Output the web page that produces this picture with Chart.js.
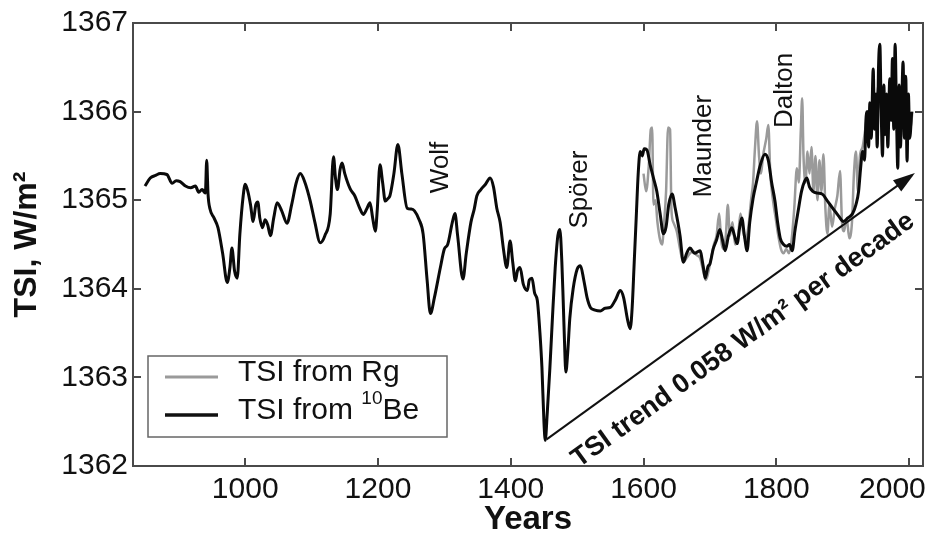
<!DOCTYPE html>
<html>
<head>
<meta charset="utf-8">
<title>TSI reconstruction</title>
<script src="https://cdn.jsdelivr.net/npm/chart.js@4.4.1/dist/chart.umd.min.js"></script>
<style>
  html, body { margin: 0; padding: 0; background: #fff; }
  #wrap { width: 934px; height: 538px; }
</style>
</head>
<body>
<div id="wrap"><canvas id="tsiChart" width="934" height="538"></canvas></div>
<script>
// ─────────────────────────────────────────
// DATA
// ─────────────────────────────────────────

// TSI from 10Be
const beYears = [
  849, 857, 865, 872, 882, 890, 896, 902, 910, 918, 925, 930, 935, 940, 942, 944, 947, 953, 959, 966,
  973, 977, 980, 984, 988, 992, 997, 1000, 1004, 1008, 1012, 1016, 1019, 1022, 1026, 1030, 1034, 1038, 1043, 1048,
  1055, 1063, 1070, 1077, 1083, 1090, 1098, 1105, 1113, 1120, 1128, 1133, 1136, 1139, 1143, 1146, 1150, 1158, 1165, 1172,
  1178, 1183, 1188, 1192, 1196, 1199, 1203, 1207, 1211, 1215, 1218, 1224, 1230, 1236, 1244, 1250, 1255, 1262, 1268, 1274,
  1279, 1285, 1294, 1300, 1305, 1312, 1316, 1320, 1328, 1333, 1340, 1345, 1349, 1355, 1362, 1369, 1374, 1379, 1384, 1389,
  1394, 1399, 1403, 1407, 1410, 1414, 1419, 1425, 1428, 1432, 1436, 1440, 1444, 1447, 1450, 1452, 1455, 1459, 1463, 1467,
  1471, 1474, 1477, 1479, 1481, 1483, 1486, 1489, 1494, 1500, 1505, 1510, 1515, 1520, 1527, 1535, 1542, 1550, 1558, 1565,
  1570, 1576, 1580, 1583, 1586, 1589, 1592, 1595, 1598, 1601, 1605, 1610, 1615, 1620, 1625, 1630, 1634, 1638, 1643, 1648,
  1655, 1660, 1665, 1670, 1677, 1685, 1690, 1693, 1697, 1700, 1705, 1710, 1715, 1719, 1723, 1728, 1733, 1737, 1741, 1745,
  1748, 1752, 1756, 1760, 1765, 1770, 1776, 1783, 1788, 1793, 1798, 1802, 1806, 1811, 1816, 1820, 1824, 1828, 1833, 1838,
  1843, 1846, 1850, 1855, 1862, 1869, 1878, 1886, 1894, 1901, 1908, 1915, 1920, 1924, 1927, 1930, 1933, 1935, 1937, 1939,
  1941, 1943, 1946, 1948, 1950, 1952, 1954, 1956, 1958, 1960, 1962, 1964, 1966, 1968, 1971, 1973, 1975, 1977, 1979, 1981,
  1983, 1985, 1987, 1989, 1991, 1993, 1995, 1997, 1999, 2001, 2004
];
const beTsi = [
  1365.16, 1365.25, 1365.28, 1365.30, 1365.29, 1365.19, 1365.22, 1365.21, 1365.16, 1365.14, 1365.16, 1365.09, 1365.12, 1365.08, 1365.45, 1365.07, 1364.90, 1364.80, 1364.69, 1364.40,
  1364.07, 1364.24, 1364.46, 1364.20, 1364.12, 1364.62, 1365.05, 1365.18, 1365.10, 1364.95, 1364.76, 1364.95, 1364.98, 1364.80, 1364.69, 1364.78, 1364.72, 1364.60, 1364.80, 1364.97,
  1364.88, 1364.74, 1364.95, 1365.20, 1365.30, 1365.20, 1364.99, 1364.75, 1364.52, 1364.60, 1364.84, 1365.49, 1365.25, 1365.12, 1365.35, 1365.42, 1365.30, 1365.13, 1365.05, 1364.92,
  1364.84, 1364.90, 1364.97, 1364.80, 1364.65, 1364.90, 1365.40, 1365.20, 1364.99, 1365.02, 1365.05, 1365.30, 1365.63, 1365.30, 1364.91, 1364.90, 1364.88, 1364.78, 1364.62, 1364.10,
  1363.72, 1363.90, 1364.24, 1364.45, 1364.50, 1364.75, 1364.85, 1364.60, 1364.11, 1364.40, 1364.75, 1364.90, 1365.05, 1365.12, 1365.18, 1365.25, 1365.15, 1364.91, 1364.75, 1364.45,
  1364.24, 1364.54, 1364.30, 1364.09, 1364.20, 1364.24, 1364.05, 1363.98, 1364.10, 1364.12, 1363.95, 1363.87, 1363.50, 1363.11, 1362.50, 1362.29, 1362.60, 1363.11, 1363.70, 1364.24,
  1364.60, 1364.67, 1364.30, 1363.87, 1363.40, 1363.06, 1363.30, 1363.67, 1364.00, 1364.22, 1364.26, 1364.10, 1363.90, 1363.79, 1363.76, 1363.75, 1363.78, 1363.79, 1363.88, 1363.98,
  1363.90, 1363.65, 1363.55, 1363.80, 1364.30, 1364.80, 1365.30, 1365.55, 1365.50, 1365.58, 1365.57, 1365.40, 1365.25, 1365.10, 1364.85, 1364.62, 1364.70, 1364.95, 1365.07, 1364.90,
  1364.60, 1364.30, 1364.40, 1364.46, 1364.40, 1364.43, 1364.25, 1364.12, 1364.25, 1364.28, 1364.45, 1364.55, 1364.67, 1364.55, 1364.43, 1364.60, 1364.69, 1364.60, 1364.51, 1364.70,
  1364.80, 1364.60, 1364.43, 1364.75, 1365.02, 1365.20, 1365.40, 1365.52, 1365.45, 1365.20, 1364.99, 1364.75, 1364.57, 1364.50, 1364.48, 1364.50, 1364.43, 1364.65, 1364.88, 1365.10,
  1365.22, 1365.25, 1365.15, 1365.10, 1365.08, 1365.07, 1364.98, 1364.90, 1364.82, 1364.76, 1364.80, 1364.85, 1364.95, 1365.10, 1365.36, 1365.55, 1365.45, 1365.90, 1366.00, 1365.60,
  1366.10, 1365.70, 1366.48, 1365.80, 1366.20, 1365.60, 1366.50, 1366.76, 1366.00, 1365.50, 1366.30, 1365.74, 1366.20, 1365.60, 1366.37, 1365.90, 1366.60, 1365.80, 1366.76, 1366.00,
  1365.36, 1366.30, 1365.60, 1366.10, 1366.56, 1365.70, 1366.40, 1365.44, 1366.20, 1365.70, 1366.00
];

// TSI from Rg
const rgYears = [
  1600, 1604, 1608, 1611, 1613, 1615, 1618, 1621, 1625, 1628, 1631, 1634, 1637, 1640, 1642, 1645, 1650, 1655, 1660, 1665,
  1670, 1675, 1680, 1685, 1690, 1694, 1698, 1702, 1706, 1710, 1714, 1717, 1720, 1724, 1727, 1730, 1734, 1738, 1742, 1746,
  1750, 1754, 1758, 1762, 1765, 1768, 1771, 1774, 1777, 1780, 1785, 1788, 1791, 1795, 1799, 1803, 1807, 1811, 1815, 1819,
  1823, 1827, 1831, 1834, 1837, 1839, 1841, 1844, 1847, 1850, 1853, 1856, 1859, 1862, 1865, 1868, 1871, 1874, 1877, 1880,
  1884, 1888, 1892, 1896, 1899, 1902, 1906, 1910, 1914, 1917, 1920, 1923, 1926, 1930, 1934, 1938, 1942, 1946, 1950, 1954,
  1958, 1962, 1966, 1970, 1974, 1978, 1982, 1986, 1990, 1994, 1998, 2002, 2005
];
const rgTsi = [
  1365.30, 1365.10, 1365.40, 1365.80, 1365.82, 1364.95, 1365.00, 1364.75, 1364.55, 1364.50, 1364.75, 1365.10, 1365.82, 1365.80, 1364.90, 1364.75, 1364.65, 1364.45, 1364.30, 1364.35,
  1364.40, 1364.42, 1364.38, 1364.35, 1364.20, 1364.10, 1364.20, 1364.35, 1364.50, 1364.60, 1364.85, 1364.55, 1364.45, 1364.60, 1364.95, 1364.60, 1364.75, 1364.50, 1364.55, 1364.85,
  1364.65, 1364.55, 1364.70, 1365.00, 1365.20, 1365.60, 1365.89, 1365.50, 1365.30, 1365.50, 1365.70, 1365.85, 1365.30, 1365.00, 1364.80, 1364.60, 1364.45, 1364.40, 1364.45, 1364.40,
  1364.55, 1364.90, 1365.36, 1365.20, 1365.80, 1366.15, 1365.50, 1365.20, 1365.55, 1365.30, 1365.60, 1365.10, 1365.50, 1365.00, 1365.45, 1365.10, 1365.52, 1364.90, 1364.62, 1364.95,
  1364.70, 1364.90, 1365.05, 1365.33, 1364.75, 1364.65, 1364.80, 1364.57, 1364.75, 1365.30, 1365.55, 1365.10, 1365.50, 1365.60, 1365.80, 1366.00, 1365.90, 1366.20, 1366.10, 1366.30,
  1366.00, 1366.10, 1365.90, 1366.20, 1366.00, 1366.30, 1365.80, 1366.10, 1366.30, 1365.90, 1366.10, 1365.80, 1366.00
];

// trend arrow and its label
const trendYears = [1454, 2004];
const trendTsi = [1362.30, 1365.28];
const trendLabel = "TSI trend 0.058 W/m² per decade";
const trendLabelAt = [1750, 1363.42];

// grand minima labels
const minimaLabels = ["Wolf", "Spörer", "Maunder", "Dalton"];
const minimaYears = [1294, 1504, 1691, 1813];
const minimaTsi = [1365.37, 1365.12, 1365.61, 1366.24];

const xTicks = [1000, 1200, 1400, 1600, 1800, 2000];
const yTicks = [1362, 1363, 1364, 1365, 1366, 1367];

const toPoints = (xs, ys) => xs.map((v, i) => ({ x: v, y: ys[i] }));

// ─────────────────────────────────────────
// FRAME, ARROW, LABELS, LEGEND
// ─────────────────────────────────────────

const FONT = "'Liberation Sans', Arial, Helvetica, sans-serif";

const decorations = {
  id: "decorations",
  afterDraw(chart) {
    const { ctx, chartArea: a } = chart;
    const x = chart.scales.x, y = chart.scales.y;
    ctx.save();

    // box round the plot, ticks pointing inward
    ctx.strokeStyle = "#4a4a4a";
    ctx.lineWidth = 2;
    ctx.strokeRect(a.left, a.top, a.right - a.left, a.bottom - a.top);
    ctx.beginPath();
    xTicks.forEach(v => {
      const px = Math.round(x.getPixelForValue(v));
      ctx.moveTo(px, a.bottom); ctx.lineTo(px, a.bottom - 8);
      ctx.moveTo(px, a.top);    ctx.lineTo(px, a.top + 8);
    });
    yTicks.forEach(v => {
      const py = Math.round(y.getPixelForValue(v));
      ctx.moveTo(a.left, py);  ctx.lineTo(a.left + 8, py);
      ctx.moveTo(a.right, py); ctx.lineTo(a.right - 8, py);
    });
    ctx.stroke();

    // arrow head on the trend line
    const x0 = x.getPixelForValue(trendYears[0]), y0 = y.getPixelForValue(trendTsi[0]);
    const x1 = x.getPixelForValue(trendYears[1]), y1 = y.getPixelForValue(trendTsi[1]);
    const ang = Math.atan2(y1 - y0, x1 - x0);
    const c = Math.cos(ang), s = Math.sin(ang);
    ctx.fillStyle = "#111";
    ctx.beginPath();
    ctx.moveTo(x1 + 4 * c, y1 + 4 * s);
    ctx.lineTo(x1 - 18 * c + 7 * s, y1 - 18 * s - 7 * c);
    ctx.lineTo(x1 - 18 * c - 7 * s, y1 - 18 * s + 7 * c);
    ctx.closePath();
    ctx.fill();

    // trend text along the arrow
    ctx.save();
    ctx.translate(x.getPixelForValue(trendLabelAt[0]), y.getPixelForValue(trendLabelAt[1]));
    ctx.rotate(ang);
    ctx.font = "bold 27px " + FONT;
    ctx.textAlign = "center";
    ctx.textBaseline = "middle";
    ctx.fillText(trendLabel, 0, 0);
    ctx.restore();

    // minima names, written upward
    ctx.font = "26px " + FONT;
    ctx.textAlign = "center";
    ctx.textBaseline = "middle";
    minimaLabels.forEach((t, i) => {
      ctx.save();
      ctx.translate(x.getPixelForValue(minimaYears[i]), y.getPixelForValue(minimaTsi[i]));
      ctx.rotate(-Math.PI / 2);
      ctx.fillText(t, 0, 0);
      ctx.restore();
    });

    // legend box
    const lx = a.left + 15, ly = 356, lw = 299, lh = 81;
    ctx.fillStyle = "#fff";
    ctx.fillRect(lx, ly, lw, lh);
    ctx.strokeStyle = "#666";
    ctx.lineWidth = 1.5;
    ctx.strokeRect(lx, ly, lw, lh);

    const rows = [
      { color: "#9a9a9a", width: 3, parts: [["TSI from Rg", 30, 0]] },
      { color: "#111", width: 3.5, parts: [["TSI from ", 30, 0], ["10", 19, -12], ["Be", 30, 0]] }
    ];
    rows.forEach((r, i) => {
      const ry = ly + 21 + i * 38;
      ctx.strokeStyle = r.color;
      ctx.lineWidth = r.width;
      ctx.beginPath();
      ctx.moveTo(lx + 17, ry);
      ctx.lineTo(lx + 70, ry);
      ctx.stroke();
      ctx.fillStyle = "#111";
      ctx.textAlign = "left";
      ctx.textBaseline = "middle";
      let tx = lx + 90;
      r.parts.forEach(([t, size, dy]) => {
        ctx.font = size + "px " + FONT;
        ctx.fillText(t, tx, ry - 4 + dy);
        tx += ctx.measureText(t).width;
      });
    });

    ctx.restore();
  }
};

// ─────────────────────────────────────────
// CHART
// ─────────────────────────────────────────

new Chart(document.getElementById("tsiChart"), {
  type: "line",
  data: {
    datasets: [
      {
        label: "TSI from Rg",
        data: toPoints(rgYears, rgTsi),
        borderColor: "#9a9a9a",
        borderWidth: 2.5,
        pointRadius: 0,
        cubicInterpolationMode: "monotone",
        order: 3
      },
      {
        label: "TSI from 10Be",
        data: toPoints(beYears, beTsi),
        borderColor: "#0a0a0a",
        borderWidth: 3,
        pointRadius: 0,
        cubicInterpolationMode: "monotone",
        order: 2
      },
      {
        label: "trend",
        data: toPoints(trendYears, trendTsi),
        borderColor: "#111",
        borderWidth: 2,
        pointRadius: 0,
        order: 1
      }
    ]
  },
  options: {
    responsive: false,
    animation: false,
    devicePixelRatio: 1,
    layout: { padding: { top: 21, right: 11, left: 0, bottom: 0 } },
    plugins: {
      legend: { display: false },
      tooltip: { enabled: false }
    },
    scales: {
      x: {
        type: "linear",
        min: 831,
        max: 2021,
        afterBuildTicks: s => { s.ticks = xTicks.map(v => ({ value: v })); },
        afterFit: s => { s.height = 72; s.paddingLeft = 0; s.paddingRight = 0; },
        grid: { display: false, drawTicks: false },
        border: { display: false },
        ticks: {
          color: "#111",
          padding: 6,
          maxRotation: 0,
          font: { family: FONT, size: 30 },
          // last label is pushed left so it stays inside the picture
          callback: v => v === 2000 ? "2000    " : String(v)
        },
        title: {
          display: true,
          text: "Years",
          color: "#111",
          font: { family: FONT, size: 33, weight: "bold", lineHeight: 1 },
          padding: { top: 0, bottom: 2 }
        }
      },
      y: {
        min: 1362,
        max: 1367,
        afterBuildTicks: s => { s.ticks = yTicks.map(v => ({ value: v })); },
        afterFit: s => { s.width = 133; },
        grid: { display: false, drawTicks: false },
        border: { display: false },
        ticks: {
          color: "#111",
          padding: 5,
          font: { family: FONT, size: 30 },
          callback: v => String(v)
        },
        title: {
          display: true,
          text: "TSI, W/m²",
          color: "#111",
          font: { family: FONT, size: 32, weight: "bold", lineHeight: 1 },
          padding: { top: 11, bottom: 0 }
        }
      }
    }
  },
  plugins: [decorations]
});
</script>
</body>
</html>
